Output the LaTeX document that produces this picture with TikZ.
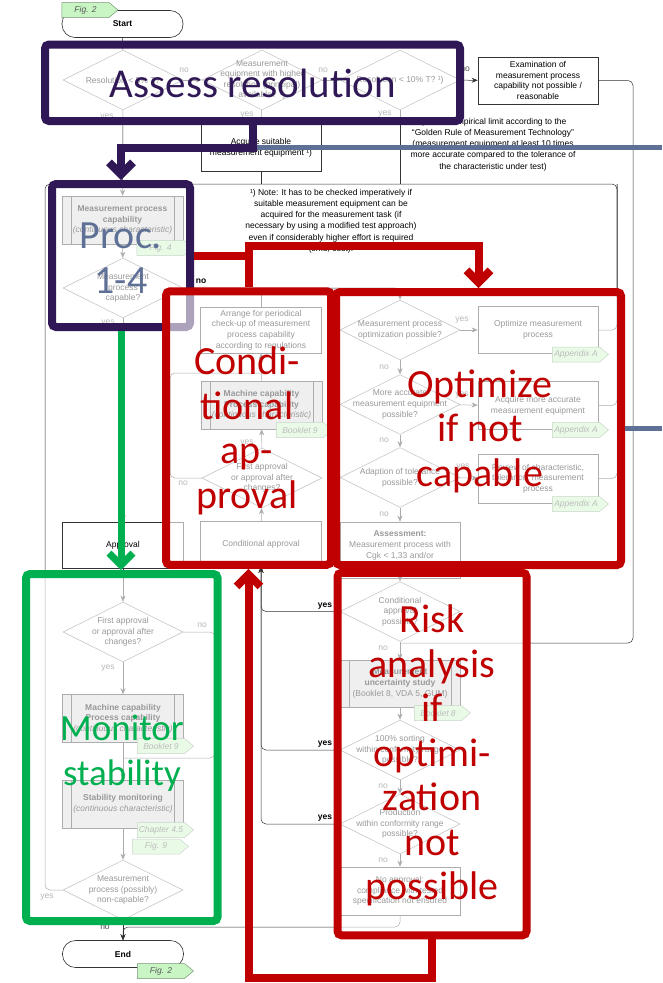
\documentclass[tikz,border=0pt]{standalone}
\usepackage{fontspec}
\setmainfont{Liberation Sans}
\newfontfamily\bigfont{Carlito}
\usepackage{tikz}
\usetikzlibrary{arrows.meta,shapes.geometric,shapes.symbols,positioning}
\usepackage{xcolor}
\definecolor{purp}{RGB}{48,24,86}
\definecolor{slate}{RGB}{95,112,150}
\definecolor{grn}{RGB}{0,176,80}
\definecolor{rd}{RGB}{192,0,0}
\definecolor{tagfill}{RGB}{200,245,195}
\definecolor{tagline}{RGB}{120,150,120}

\begin{document}
\begin{tikzpicture}[x=1pt, y=-1pt,
	every node/.style={font=\fontsize{8.5}{10.6}\selectfont, align=center, inner sep=1pt},
	box/.style={rectangle, draw=black!80, line width=0.6pt, minimum width=120pt, minimum height=47pt},
	subproc/.style={box, fill=black!15, minimum width=121pt, minimum height=48pt, path picture={
		\draw[black!80, line width=0.6pt]
			([xshift=9pt]path picture bounding box.north west) -- ([xshift=9pt]path picture bounding box.south west)
			([xshift=-9pt]path picture bounding box.north east) -- ([xshift=-9pt]path picture bounding box.south east);}},
	term/.style={rectangle, rounded corners=13pt, draw=black!80, line width=0.6pt, minimum width=121pt, minimum height=27pt, font=\bfseries\fontsize{8.5}{10.6}\selectfont},
	decide/.style={diamond, draw=black!55, line width=0.6pt, minimum width=120pt, minimum height=60pt, inner sep=0pt},
	tag/.style={signal, signal to=east, signal pointer angle=80, draw=tagline, line width=0.5pt, fill=tagfill, minimum width=56pt, minimum height=15pt, inner sep=0pt, font=\itshape\fontsize{8.5}{10}\selectfont, text=black!65},
	note/.style={inner sep=0pt, font=\fontsize{8.5}{11.2}\selectfont},
	yn/.style={inner sep=0pt, text=black!70},
	ynb/.style={inner sep=0pt, font=\bfseries\fontsize{8.5}{10}\selectfont},
	flow/.style={draw=black!80, line width=0.5pt, rounded corners=5pt, -{Stealth[length=6pt, width=5pt]}},
	line/.style={draw=black!80, line width=0.5pt, rounded corners=5pt},
	zone/.style={rectangle, rounded corners=4pt, line width=8pt, fill=white, fill opacity=0.6, inner sep=0pt},
	bigarrow/.style={line width=8pt, -{Straight Barb[length=12pt, width=24pt]}},
	bigtxt/.style={font=\bigfont\fontsize{40}{44.5}\selectfont, align=center, inner sep=0pt}]
		\useasboundingbox (0,0) rectangle (662,983);
		% Resolution {{{
		\node[term] (start) at (122.5,24) {Start};
		\node[tag] (figA) at (85.5,10) {Fig. 2};
		\node[decide, label={center:{Resolution < 5\% T?}}] (res5) at (123,80) {};
		\node[decide, label={center:{Measurement\\equipment with higher\\resolution (principal)\\available? ¹)}}] (higher) at (262,80) {};
		\node[decide, label={center:{Resolution < 10\% T? ¹)}}] (res10) at (400,80) {};
		\node[box] (exam) at (538,80.5) {Examination of\\measurement process\\capability not possible /\\reasonable};
		\node[box] (acquire) at (261,147.5) {Acquire suitable\\measurement equipment ¹)};
		\node[note] (golden) at (493,144.5) {¹) Note: Empirical limit according to the\\“Golden Rule of Measurement Technology”\\(measurement equipment at least 10 times\\more accurate compared to the tolerance of\\the characteristic under test)};
		\node[note] (imperative) at (331,221) {¹) Note: It has to be checked imperatively if\\suitable measurement equipment can be\\acquired for the measurement task (if\\necessary by using a modified test approach)\\even if considerably higher effort is required\\(time, cost).};
		% }}}
		% Capability {{{
		\node[subproc] (mpc) at (122.5,220) {\textbf{Measurement process}\\\textbf{capability}\\\textit{(continuous characteristic)}};
		\node[tag] (figB) at (160.5,248) {Fig. 4};
		\node[decide, label={center:{Measurement\\process\\capable?}}] (capable) at (123,288) {};
		\node[box, minimum width=121pt, minimum height=46pt] (approval) at (123,545) {Approval};
		\node[decide, label={center:{First approval\\or approval after\\changes?}}] (firstA) at (123,632) {};
		\node[subproc] (machA) at (123,718.5) {\textbf{Machine capability}\\\textbf{Process capability}\\\textit{(continuous characteristic)}};
		\node[tag] (bookA) at (161,746) {Booklet 9};
		\node[subproc] (stab) at (123,804) {\textbf{Stability monitoring}\\\textit{(continuous characteristic)}};
		\node[tag] (chap) at (161,830) {Chapter 4.5};
		\node[tag] (figC) at (156,846.5) {Fig. 9};
		\node[decide, label={center:{Measurement\\process (possibly)\\non-capable?}}] (noncap) at (123,890) {};
		\node[term] (end) at (123,954) {End};
		\node[tag] (figD) at (161,971) {Fig. 2};
		% }}}
		% Conditional column {{{
		\node[box, minimum width=121pt, minimum height=46pt] (arrange) at (261,330) {Arrange for periodical\\check-up of measurement\\process capability\\according to regulations};
		\node[subproc] (machB) at (261.5,405) {\textbf{Machine capability}\\\textbf{Process capability}\\\textit{(continuous characteristic)}};
		\node[tag] (bookB) at (300,430) {Booklet 9};
		\node[decide, label={center:{First approval\\or approval after\\changes?}}] (firstB) at (262,478) {};
		\node[box, minimum width=121pt, minimum height=45pt] (condappr) at (261,544) {Conditional approval};
		% }}}
		% Optimization column {{{
		\node[decide, label={center:{Measurement process\\optimization possible?}}] (optposs) at (400,330) {};
		\node[box] (optimize) at (538,330) {Optimize measurement\\process};
		\node[tag] (appA) at (576,354.5) {Appendix A};
		\node[decide, label={center:{More accurate\\measurement equipment\\possible?}}] (moreacc) at (400,404.5) {};
		\node[box, minimum height=48pt] (acqmore) at (538,405.5) {Acquire more accurate\\measurement equipment};
		\node[tag] (appB) at (576,430) {Appendix A};
		\node[decide, label={center:{Adaption of tolerance\\possible?}}] (tolposs) at (400,477.5) {};
		\node[box, minimum height=49pt] (review) at (538,478.5) {Review of characteristic,\\tolerance, measurement\\process};
		\node[tag] (appC) at (576,504) {Appendix A};
		\node[box, minimum height=56pt] (assess) at (400,550) {\textbf{Assessment:}\\Measurement process with\\Cgk < 1,33 and/or\\\%GRR > 10\%};
		\node[decide, label={center:{Conditional\\approval\\possible?}}] (condposs) at (400,611.5) {};
		\node[subproc, minimum width=120pt, minimum height=47pt] (uncert) at (400,683.5) {\textbf{Measurement}\\\textbf{uncertainty study}\\(Booklet 8, VDA 5, GUM)};
		\node[tag] (bookC) at (438,713) {Booklet 8};
		\node[decide, label={center:{100\% sorting\\within conformity range\\possible?}}] (sorting) at (400,750) {};
		\node[decide, label={center:{Production\\within conformity range\\possible?}}] (prodposs) at (400,824) {};
		\node[box, minimum height=48pt] (noappr) at (400,891) {No approval:\\compliance with tested\\specification not ensured};
		% }}}
		% Connectors {{{
		\coordinate (loopTL) at (45,184);
		\coordinate (loopTR) at (617,184);
		\coordinate (exdrop) at (633,643);
		\coordinate (noloop) at (170,373);
		\coordinate (nojoin) at (215,758);
		\coordinate (endjoin) at (123,927);
		\draw[flow] (start) -- (res5);
		\draw[flow] (res5) -- (higher);
		\draw[flow] (higher) -- (res10);
		\draw[flow] (res10) -- (exam);
		\draw[flow] (higher) -- (acquire);
		\draw[flow] (res5) -- (mpc);
		\draw[line] (acquire.south) -- (acquire.south |- loopTL);
		\draw[line] (res10.south) -- (res10.south |- loopTL);
		\draw[line] (noncap.west) -| (loopTL) -- (loopTR) |- (review.east);
		\draw[line] (optimize.east) -| (loopTR);
		\draw[line] (acqmore.east) -| (loopTR);
		\draw[line] (exam.east) -| (exdrop) -- (exdrop -| uncert.north);
		\draw[flow] (mpc) -- (capable);
		\draw[flow] (capable) -- (approval);
		\draw[flow] (capable.east) -| (optposs.north);
		\draw[line] (arrange.north) -- (arrange.north |- capable.east);
		\draw[flow] (machB) -- (arrange);
		\draw[flow] (firstB) -- (machB);
		\draw[flow] (condappr) -- (firstB);
		\draw[line] (firstB.west) -| (noloop) -- (noloop -| machB.north);
		\draw[flow] (optposs) -- (optimize);
		\draw[flow] (optposs) -- (moreacc);
		\draw[flow] (moreacc) -- (acqmore);
		\draw[flow] (moreacc) -- (tolposs);
		\draw[flow] (tolposs) -- (review);
		\draw[flow] (tolposs) -- (assess);
		\draw[flow] (assess) -- (condposs);
		\draw[flow] (condposs) -- (uncert);
		\draw[flow] (uncert) -- (sorting);
		\draw[flow] (sorting) -- (prodposs);
		\draw[flow] (prodposs) -- (noappr);
		\draw[flow] (condposs.west) -| (condappr.south);
		\draw[flow] (sorting.west) -| (condappr.south);
		\draw[flow] (prodposs.west) -| (condappr.south);
		\draw[flow] (noappr.south) |- (endjoin) -- (end);
		\draw[flow] (approval) -- (firstA);
		\draw[flow] (firstA) -- (machA);
		\draw[flow] (machA) -- (stab);
		\draw[flow] (stab) -- (noncap);
		\draw[flow] (noncap) -- (end);
		\draw[line] (firstA.east) -| (nojoin) -- (nojoin -| machA.south);
		% }}}
		% yes / no {{{
		\node[yn] (n1) at (184,70) {no};
		\node[yn] (y1) at (107,117) {yes};
		\node[yn] (n2) at (323,70) {no};
		\node[yn] (y2) at (247,115) {yes};
		\node[yn] (n3) at (465,69) {no};
		\node[yn] (y3) at (385,114) {yes};
		\node[ynb] (n4) at (201,281) {no};
		\node[yn] (y4) at (108,323) {yes};
		\node[yn] (y5) at (247,443) {yes};
		\node[yn] (n5) at (183,483) {no};
		\node[yn] (y6) at (462,320) {yes};
		\node[yn] (n6) at (384,367) {no};
		\node[yn] (y7) at (462,395) {yes};
		\node[yn] (n7) at (384,440) {no};
		\node[yn] (y8) at (463,467) {yes};
		\node[yn] (n8) at (384,514) {no};
		\node[ynb] (y9) at (325,606) {yes};
		\node[yn] (n9) at (383,648) {no};
		\node[ynb] (y10) at (325,744) {yes};
		\node[yn] (n10) at (383,786) {no};
		\node[ynb] (y11) at (325,818) {yes};
		\node[yn] (n11) at (383,860) {no};
		\node[yn] (n12) at (202,625) {no};
		\node[yn] (y12) at (108,668) {yes};
		\node[yn] (y13) at (47,897) {yes};
		\node[yn] (n13) at (105,927) {no};
		% }}}
		% Highlight boxes {{{
		\node[zone, draw=purp, minimum width=415pt, minimum height=76.5pt] (assessbox) at (252.5,82.75) {};
		\node[zone, draw=purp, minimum width=138pt, minimum height=143pt] (procbox) at (121,255.5) {};
		\node[zone, draw=grn, minimum width=191.5pt, minimum height=347pt] (greenbox) at (121.75,747.5) {};
		\node[zone, draw=rd, minimum width=165pt, minimum height=273.5pt] (condbox) at (248.5,428) {};
		\node[zone, draw=rd, minimum width=285pt, minimum height=273pt] (optbox) at (478.5,428.5) {};
		\node[zone, draw=rd, minimum width=189pt, minimum height=362.5pt] (riskbox) at (432,754) {};
		\coordinate (pbend) at (252.5,147.5);
		\coordinate (rbend) at (248.5,246);
		\coordinate (rbottom) at (432,978);
		\draw[slate, line width=5pt] (pbend) -- (662,147.5);
		\draw[slate, line width=5pt] (optbox.east) -- (662,428.5);
		\draw[bigarrow, purp] (assessbox.south) -- (pbend) -| (procbox.north);
		\draw[bigarrow, grn, line width=7pt] (procbox.south) -- (procbox.south |- greenbox.north);
		\draw[rd, line width=8pt] (procbox.east) -- (procbox.east -| rbend);
		\draw[bigarrow, rd] (condbox.north) -- (rbend) -| (optbox.north);
		\draw[bigarrow, rd] (riskbox.south) -- (rbottom) -| (condbox.south);
		\node[bigtxt, text=purp, anchor=base, font=\bigfont\fontsize{41}{44.5}\selectfont] (assesstxt) at (253,97) {Assess resolution};
		\node[bigtxt, text=slate] (proctxt) at (121,258) {Proc.\\1-4};
		\node[bigtxt, text=grn, font=\bigfont\fontsize{37}{44.5}\selectfont] (montxt) at (122,753) {Monitor\\stability};
		\node[bigtxt, text=rd] (condtxt) at (247,431) {Condi-\\tional\\ap-\\proval};
		\node[bigtxt, text=rd] (opttxt) at (480,431) {Optimize\\if not\\capable};
		\node[bigtxt, text=rd] (risktxt) at (432,755.5) {Risk\\analysis\\if\\optimi-\\zation\\not\\possible};
		% }}}
\end{tikzpicture}
\end{document}
